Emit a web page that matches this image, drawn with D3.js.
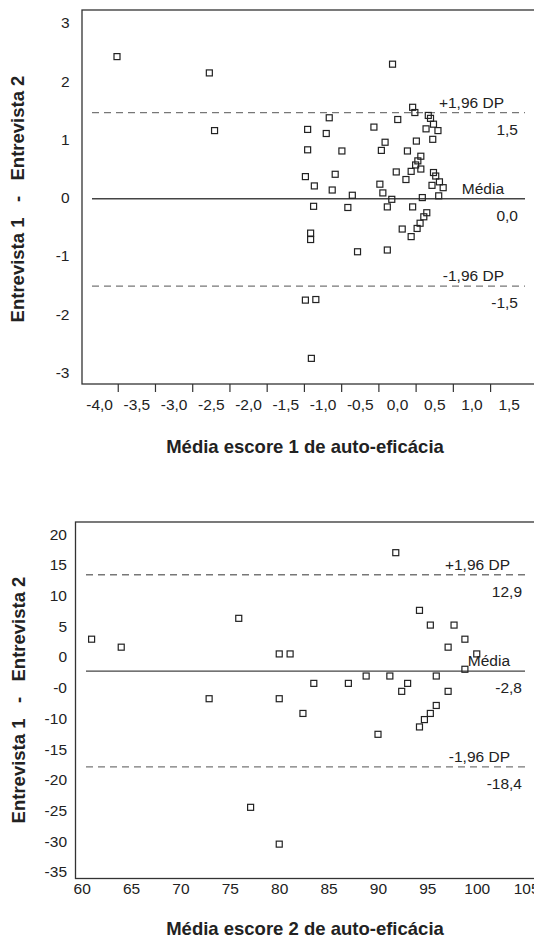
<!DOCTYPE html>
<html>
<head>
<meta charset="utf-8">
<script src="https://cdnjs.cloudflare.com/ajax/libs/d3/7.8.5/d3.min.js"></script>
<style>
  body { margin: 0; background: #fff; }
  svg text { font-family: "Liberation Sans", Arial, Helvetica, sans-serif; fill: #222; }
</style>
</head>
<body>
<div id="chart"></div>
<script>
// ---- grafico 1: escore 1 ----
var media1 = [-3.76, -2.52, -2.45, -0.06, -1.15, -1.23, -1.09,
  0.21, 0.24, -0.91, 0.42, 0.45, 0.01, -1.20, -0.95, -0.31, 0.49, 0.39, 0.55, 0.48,
  -0.16, -0.21, 0.26, -1.20, -0.74, 0.14, 0.32, 0.28, 0.25, 0.32, 0.19, -0.01, 0.12,
  -1.23, -0.83, 0.49, 0.52, 0.57, 0.47, 0.62, -1.11, -0.87, -0.23, -0.19, -0.60, 0.34,
  0.56, -0.07, -1.12, -0.66, -0.13, 0.21, 0.40, 0.36, 0.31, 0.27, 0.07, 0.19, -1.16,
  -1.16, -0.53, -0.13];
var dif1 = [2.42, 2.14, 1.15, 2.29, -2.76, -1.76, -1.75,
  1.55, 1.46, 1.37, 1.41, 1.36, 1.34, 1.17, 1.10, 1.21, 1.26, 1.18, 1.15, 1.00,
  0.95, 0.81, 0.97, 0.82, 0.80, 0.80, 0.71, 0.63, 0.56, 0.49, 0.45, 0.44, 0.31,
  0.36, 0.40, 0.43, 0.37, 0.27, 0.21, 0.17, 0.20, 0.13, 0.23, 0.08, 0.04, 0.00,
  0.03, -0.03, -0.15, -0.17, -0.16, -0.16, -0.26, -0.33, -0.44, -0.53, -0.54, -0.67, -0.61,
  -0.72, -0.93, -0.90];
var xTicks1 = [-4, -3.5, -3, -2.5, -2, -1.5, -1, -0.5, 0, 0.5, 1, 1.5];
var xTickLabels1 = ["-4,0", "-3,5", "-3,0", "-2,5", "-2,0", "-1,5", "-1,0", "-0,5", "0,0", "0,5", "1,0", "1,5"];
var xMarks1 = [-3.75, -3.25, -2.75, -2.25, -1.75, -1.25, -0.75, -0.25, 0.25, 0.75, 1.25];
var yTicks1 = [3, 2, 1, 0, -1, -2, -3];
var yTickLabels1 = ["3", "2", "1", "0", "-1", "-2", "-3"];
var linhas1 = [1.46, -0.02, -1.52];
var linhaNomes1 = ["+1,96 DP", "Média", "-1,96 DP"];
var linhaValores1 = ["1,5", "0,0", "-1,5"];

// ---- grafico 2: escore 2 ----
var media2 = [61.0, 64.0, 75.9, 72.9, 80.0, 81.1, 80.0, 83.5, 82.4, 77.1, 80.0, 87.0,
  88.8, 90.0, 91.2, 91.8, 92.4, 93.0, 94.2, 94.2, 94.7, 95.3, 95.3, 95.9, 95.9, 97.1,
  97.1, 97.7, 98.8, 98.8, 100.0];
var dif2 = [2.4, 1.1, 5.8, -7.3, 0.0, 0.0, -7.3, -4.8, -9.7, -25.0, -31.0, -4.8,
  -3.6, -13.1, -3.6, 16.5, -6.1, -4.8, 7.1, -11.9, -10.7, 4.7, -9.7, -3.6, -8.4, 1.1,
  -6.1, 4.7, 2.4, -2.5, 0.0];
var xTicks2 = [60, 65, 70, 75, 80, 85, 90, 95, 100, 105];
var xTickLabels2 = ["60", "65", "70", "75", "80", "85", "90", "95", "100", "105"];
var yTicks2 = [20, 15, 10, 5, 0, -5, -10, -15, -20, -25, -30, -35];
var yTickLabels2 = ["20", "15", "10", "5", "0", "-0", "-10", "-15", "-20", "-25", "-30", "-35"];
var linhas2 = [12.9, -2.8, -18.4];
var linhaNomes2 = ["+1,96 DP", "Média", "-1,96 DP"];
var linhaValores2 = ["12,9", "-2,8", "-18,4"];

var W = 534, H = 938;
var svg = d3.select("#chart").append("svg")
  .attr("width", W)
  .attr("height", H);

function painel(cfg) {
  var x = d3.scaleLinear().domain(cfg.xDomain).range([cfg.left, 537]);
  var y = d3.scaleLinear().domain(cfg.yDomain).range([cfg.bottom, cfg.top]);
  var g = svg.append("g");

  // frame (right side runs off the page)
  g.append("rect")
    .attr("x", cfg.left)
    .attr("y", cfg.top)
    .attr("width", 560 - cfg.left)
    .attr("height", cfg.bottom - cfg.top)
    .attr("fill", "none")
    .attr("stroke", "#333")
    .attr("stroke-width", 1.3);

  // y tick labels
  g.append("g")
    .attr("transform", "translate(" + cfg.left + ",0)")
    .call(d3.axisLeft(y).tickValues(cfg.yTicks).tickSize(0).tickPadding(cfg.yPad)
      .tickFormat(function (d, i) { return cfg.yLabels[i]; }))
    .call(function (a) { a.select(".domain").remove(); })
    .selectAll("text")
    .attr("font-size", 15.5)
    .attr("dy", cfg.yDy)
    .style("font-family", "Liberation Sans, Arial, sans-serif")
    .attr("fill", "#222");

  // x tick labels
  g.append("g")
    .attr("transform", "translate(0," + cfg.bottom + ")")
    .call(d3.axisBottom(x).tickValues(cfg.xTicks).tickSize(0).tickPadding(cfg.xPad)
      .tickFormat(function (d, i) { return cfg.xLabels[i]; }))
    .call(function (a) { a.select(".domain").remove(); })
    .selectAll("text")
    .attr("font-size", 15.5)
    .style("font-family", "Liberation Sans, Arial, sans-serif")
    .attr("fill", "#222");

  // x tick marks (between the labels)
  if (cfg.xMarks) {
    g.append("g")
      .attr("transform", "translate(0," + cfg.bottom + ")")
      .call(d3.axisBottom(x).tickValues(cfg.xMarks).tickSize(8).tickFormat(""))
      .call(function (a) { a.select(".domain").remove(); })
      .selectAll("line")
      .attr("stroke", "#333")
      .attr("stroke-width", 1.2);
  }

  // reference lines
  g.selectAll("line.ref")
    .data(cfg.linhas)
    .enter()
    .append("line")
    .attr("class", "ref")
    .attr("x1", cfg.lineX1)
    .attr("x2", 525)
    .attr("y1", function (d) { return y(d); })
    .attr("y2", function (d) { return y(d); })
    .attr("stroke", function (d, i) { return i == 1 ? "#444" : "#777"; })
    .attr("stroke-width", 1.3)
    .attr("stroke-dasharray", function (d, i) { return i == 1 ? null : "7,5"; });

  // points
  g.selectAll("rect.pt")
    .data(cfg.mx)
    .enter()
    .append("rect")
    .attr("class", "pt")
    .attr("x", function (d) { return x(d) - 3; })
    .attr("y", function (d, i) { return y(cfg.dy[i]) - 3; })
    .attr("width", 6)
    .attr("height", 6)
    .attr("fill", "none")
    .attr("stroke", "#222")
    .attr("stroke-width", 1.2);

  // line names and values
  g.selectAll("text.nome")
    .data(cfg.linhas)
    .enter()
    .append("text")
    .attr("class", "nome")
    .attr("x", cfg.nomeX)
    .attr("y", function (d) { return y(d) - 5; })
    .attr("text-anchor", "end")
    .attr("font-size", 15.5)
    .text(function (d, i) { return cfg.nomes[i]; });

  g.selectAll("text.valor")
    .data(cfg.linhas)
    .enter()
    .append("text")
    .attr("class", "valor")
    .attr("x", cfg.valorX)
    .attr("y", function (d) { return y(d) + 22; })
    .attr("text-anchor", "end")
    .attr("font-size", 15.5)
    .text(function (d, i) { return cfg.valores[i]; });

  // axis titles
  g.append("text")
    .attr("transform", "translate(" + cfg.yTitleX + "," + cfg.yTitleY + ") rotate(-90)")
    .attr("text-anchor", "middle")
    .attr("font-size", 18.5)
    .attr("font-weight", "bold")
    .attr("xml:space", "preserve")
    .style("white-space", "pre")
    .text("Entrevista 1   -   Entrevista 2");

  g.append("text")
    .attr("x", 305)
    .attr("y", cfg.xTitleY)
    .attr("text-anchor", "middle")
    .attr("font-size", 18.5)
    .attr("font-weight", "bold")
    .text(cfg.xTitle);
}

painel({
  mx: media1, dy: dif1,
  xDomain: [-4.23, 1.88], yDomain: [-3.2, 3.22],
  left: 82, top: 10, bottom: 384,
  xTicks: xTicks1, xLabels: xTickLabels1, xMarks: xMarks1, xPad: 15,
  yTicks: yTicks1, yLabels: yTickLabels1, yPad: 12.5, yDy: "0.32em",
  linhas: linhas1, nomes: linhaNomes1, valores: linhaValores1,
  lineX1: 92, nomeX: 504, valorX: 518,
  yTitleX: 24, yTitleY: 199, xTitleY: 453,
  xTitle: "Média escore 1 de auto-eficácia"
});

painel({
  mx: media2, dy: dif2,
  xDomain: [59.37, 106.1], yDomain: [-36.6, 21.5],
  left: 75.5, top: 522, bottom: 878.5,
  xTicks: xTicks2, xLabels: xTickLabels2, xMarks: null, xPad: 4,
  yTicks: yTicks2, yLabels: yTickLabels2, yPad: 8.5, yDy: "0.52em",
  linhas: linhas2, nomes: linhaNomes2, valores: linhaValores2,
  lineX1: 86, nomeX: 510, valorX: 522,
  yTitleX: 25, yTitleY: 700, xTitleY: 935,
  xTitle: "Média escore 2 de auto-eficácia"
});
</script>
</body>
</html>
